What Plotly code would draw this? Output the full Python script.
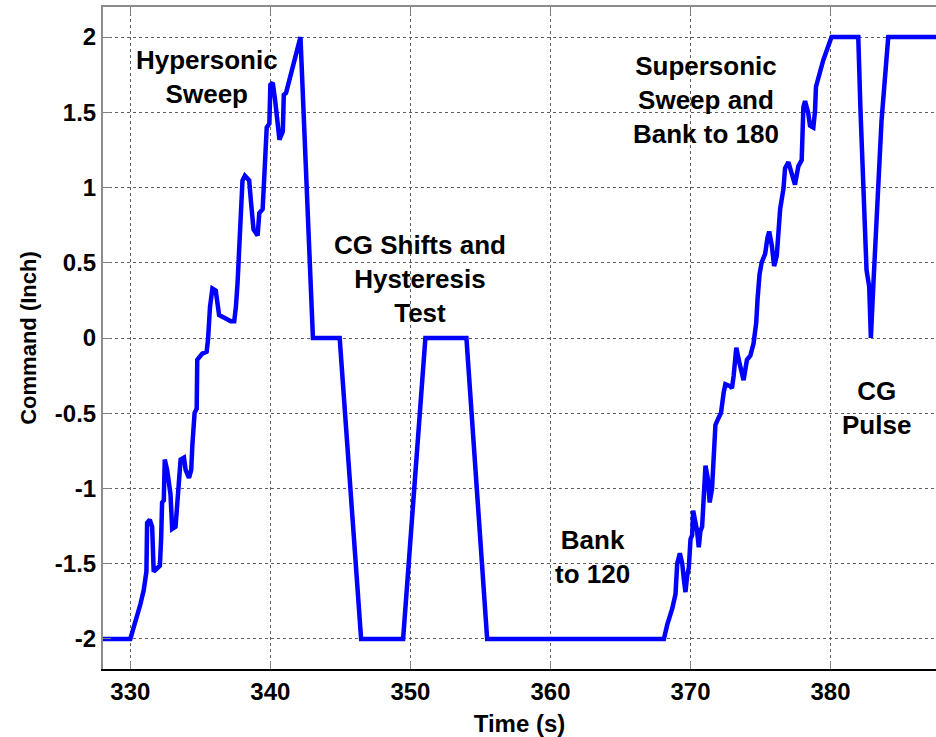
import plotly.graph_objects as go

# Time (s) and actuator command (inch)
time_s = [
    328.0, 330.0, 330.72, 330.96, 331.15, 331.20, 331.39, 331.56, 331.67, 332.11,
    332.20, 332.27, 332.39, 332.46, 332.63, 332.87, 332.99, 333.23, 333.35, 333.47,
    333.59, 333.83, 333.95, 334.19, 334.35, 334.43, 334.59, 334.74, 334.78, 335.14,
    335.45, 335.55, 335.69, 335.86, 336.10, 336.34, 336.58, 337.18, 337.42, 337.54,
    337.66, 337.78, 337.85, 338.01, 338.18, 338.49, 338.61, 338.80, 339.09, 339.21,
    339.45, 339.57, 339.64, 339.74, 339.93, 340.00, 340.17, 340.33, 340.48, 340.65,
    340.89, 340.96, 341.12, 342.15, 343.04,
    344.95, 346.48, 349.48, 351.07, 354.00, 355.48,
    368.10, 368.34, 368.70, 368.93, 369.05, 369.24, 369.41, 369.53, 369.64, 369.76,
    369.88, 370.00, 370.12, 370.19, 370.36, 370.47, 370.59, 370.71, 370.83, 370.95,
    371.07, 371.23, 371.37, 371.54, 371.66, 371.78, 371.97, 372.18, 372.37, 372.49,
    372.84, 372.96, 373.08, 373.27, 373.51, 373.79, 374.03, 374.27, 374.50, 374.69,
    374.79, 374.93, 375.09, 375.33, 375.50, 375.62, 375.81, 375.97, 376.16, 376.28,
    376.40, 376.64, 376.75, 376.99, 377.23, 377.46, 377.70, 377.94, 378.06, 378.18,
    378.41, 378.53, 378.77, 378.89, 378.96, 379.48, 380.07,
    381.98, 382.14, 382.57, 382.76, 382.88, 383.05, 383.64, 384.12, 387.6,
]
command_in = [
    -2.0, -2.0, -1.77, -1.675, -1.553, -1.228, -1.207, -1.255, -1.553, -1.513,
    -1.337, -1.093, -1.079, -0.808, -0.876, -1.039, -1.269, -1.255, -1.106, -0.957,
    -0.808, -0.795, -0.876, -0.930, -0.876, -0.714, -0.497, -0.470, -0.145, -0.104,
    -0.091, -0.009, 0.207, 0.329, 0.315, 0.153, 0.140, 0.112, 0.112, 0.207,
    0.370, 0.586, 0.803, 1.047, 1.079, 1.047, 0.911, 0.722, 0.681, 0.830,
    0.857, 1.020, 1.209, 1.399, 1.426, 1.683, 1.697, 1.588, 1.480, 1.318,
    1.372, 1.616, 1.629, 2.0, 0.0,
    0.0, -2.0, -2.0, 0.0, 0.0, -2.0,
    -2.0, -1.905, -1.797, -1.702, -1.499, -1.431, -1.499, -1.607, -1.689, -1.580,
    -1.526, -1.337, -1.310, -1.147, -1.228, -1.282, -1.391, -1.282, -1.255, -1.066,
    -0.849, -0.930, -1.093, -0.998, -0.795, -0.578, -0.538, -0.497, -0.362, -0.307,
    -0.321, -0.334, -0.253, -0.064, -0.172, -0.280, -0.145, -0.118, -0.037, 0.099,
    0.261, 0.424, 0.505, 0.559, 0.668, 0.708, 0.613, 0.478, 0.546, 0.695,
    0.857, 0.993, 1.128, 1.169, 1.101, 1.020, 1.141, 1.182, 1.534, 1.575,
    1.494, 1.412, 1.399, 1.507, 1.670, 1.846, 2.0,
    2.0, 1.509, 0.451, 0.341, 0.0, 0.341, 1.443, 2.0, 2.0,
]

x_ticks = [330, 340, 350, 360, 370, 380]
y_ticks = [-2, -1.5, -1, -0.5, 0, 0.5, 1, 1.5, 2]
y_tick_text = ["-2", "-1.5", "-1", "-0.5", "0", "0.5", "1", "1.5", "2"]

labels = ["Hypersonic<br>Sweep", "CG Shifts and<br>Hysteresis<br>Test", "Bank<br>to 120",
          "Supersonic<br>Sweep and<br>Bank to 180", "CG<br>Pulse"]
label_t = [335.5, 350.7, 363.0, 371.1, 383.25]
label_v = [1.736, 0.393, -1.455, 1.58, -0.466]

FONT = "Liberation Sans, Arial, sans-serif"

fig = go.Figure()
fig.add_trace(go.Scatter(x=time_s, y=command_in, mode="lines",
                         line=dict(color="#0000ff", width=4.5), showlegend=False,
                         hoverinfo="skip"))
# invisible trace to activate the top axis (box top with inward ticks)
fig.add_trace(go.Scatter(x=time_s[:1], y=command_in[:1], xaxis="x2", mode="lines",
                         line=dict(width=0), showlegend=False, hoverinfo="skip"))

for txt, tx, ty in zip(labels, label_t, label_v):
    fig.add_annotation(x=tx, y=ty, text="<b>" + txt + "</b>", showarrow=False,
                       font=dict(family=FONT, size=26, color="black"),
                       xanchor="center", yanchor="middle", align="center")

fig.update_layout(
    width=936, height=737,
    margin=dict(l=103, r=0, t=7, b=68),
    paper_bgcolor="white", plot_bgcolor="white",
    font=dict(family=FONT, color="black"),
    xaxis=dict(
        range=[328.05, 387.53], tickvals=x_ticks,
        ticktext=["<b>%d</b>" % v for v in x_ticks],
        tickfont=dict(family=FONT, size=24, color="black"),
        showgrid=True, gridcolor="#606060", griddash="dot", gridwidth=1,
        showline=True, linecolor="black", linewidth=2,
        ticks="inside", ticklen=8, tickcolor="#808080", tickwidth=1,
        ticklabelstandoff=0, zeroline=False,
        title=dict(text="<b>Time (s)</b>", font=dict(family=FONT, size=24), standoff=12),
    ),
    xaxis2=dict(
        overlaying="x", side="top", matches="x", range=[328.05, 387.53],
        tickvals=x_ticks, showticklabels=False, showgrid=False,
        showline=True, linecolor="#8c8c8c", linewidth=2,
        ticks="inside", ticklen=8, tickcolor="#808080", zeroline=False,
    ),
    yaxis=dict(
        range=[-2.2, 2.2], tickvals=y_ticks,
        ticktext=["<b>%s</b>" % s for s in y_tick_text],
        tickfont=dict(family=FONT, size=24, color="black"),
        showgrid=True, gridcolor="#606060", griddash="dot", gridwidth=1,
        showline=True, linecolor="#8c8c8c", linewidth=2,
        ticks="inside", ticklen=8, tickcolor="#808080", tickwidth=1,
        zeroline=False,
        title=dict(text="<b>Command (Inch)</b>", font=dict(family=FONT, size=22), standoff=12),
    ),
)

fig.write_html("out.html", config={"displayModeBar": False},
               post_script="document.body.style.margin='0';document.body.style.overflow='hidden';")
